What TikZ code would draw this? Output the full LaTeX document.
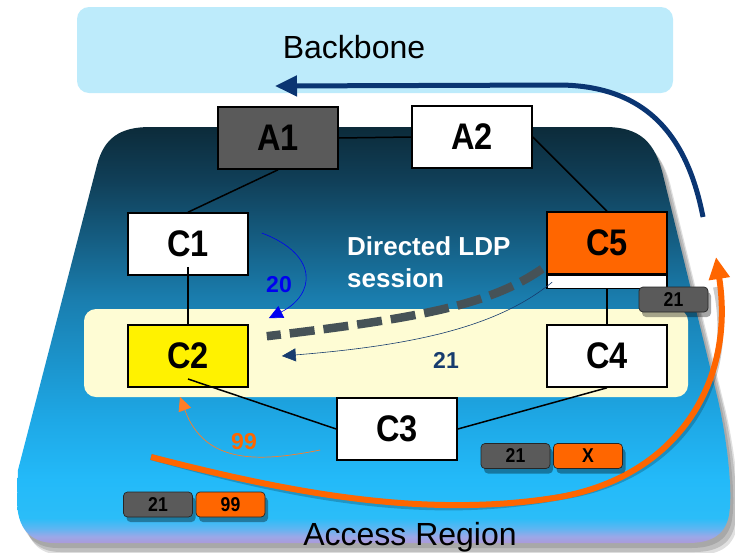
\documentclass[tikz,border=0pt]{standalone}
\usepackage{fontspec}
\setmainfont{Liberation Sans}
\newfontfamily\routerfont{Liberation Sans}[FakeStretch=0.88]
\usetikzlibrary{arrows.meta,shadows,calc}

\definecolor{bbfill}{HTML}{BDEBFB}
\definecolor{bandfill}{HTML}{FEFCD4}
\definecolor{tagGray}{HTML}{5A5A5A}
\definecolor{orng}{HTML}{FF6600}
\definecolor{navyArrow}{HTML}{0A3572}
\definecolor{dashGray}{HTML}{465257}
\definecolor{navyText}{HTML}{173C6E}
\definecolor{linkBlue}{HTML}{0000F0}

% vertical gradient of the access region (bottom to top)
\definecolor{g0}{HTML}{AC9ADA}
\definecolor{g1}{HTML}{9AA8E8}
\definecolor{g2}{HTML}{5CB6F2}
\definecolor{g3}{HTML}{2BBDF8}
\definecolor{g4}{HTML}{23BAF9}
\definecolor{g5}{HTML}{1EA8E6}
\definecolor{g6}{HTML}{1B93CB}
\definecolor{g7}{HTML}{1A7EAF}
\definecolor{g8}{HTML}{155E83}
\definecolor{g9}{HTML}{103F58}
\definecolor{g10}{HTML}{0C2B3A}
\pgfdeclareverticalshading{accessgrad}{100bp}{%
  color(0bp)=(g0); color(25bp)=(g0); color(25.8bp)=(g1); color(26.8bp)=(g2);
  color(28bp)=(g3); color(32.6bp)=(g4); color(39.8bp)=(g5); color(47bp)=(g6);
  color(54.2bp)=(g7); color(61.4bp)=(g8); color(68.6bp)=(g9); color(75bp)=(g10);
  color(100bp)=(g10)}

\tikzset{
  accesspath/.style={insert path={
    (150,127) -- (605,127) .. controls (640,127) and (655,142) .. (663,175)
    -- (718,400) .. controls (727,440) and (733,490) .. (729,515)
    .. controls (725,537) and (708,543) .. (688,543) -- (55,543)
    .. controls (30,543) and (17,528) .. (17,500) -- (18,470) -- (97,165)
    .. controls (104,138) and (120,127) .. (150,127) -- cycle}},
  router/.style={draw=black, line width=1.6pt, minimum width=120pt,
    minimum height=62pt, inner sep=0pt, fill=white,
    font=\routerfont\fontsize{37}{37}\selectfont\bfseries},
  tag/.style={draw=black!85, line width=0.7pt, rounded corners=4pt,
    minimum width=69pt, minimum height=25pt, inner sep=0pt,
    font=\routerfont\fontsize{20}{20}\selectfont\bfseries,
    drop shadow={shadow xshift=3pt, shadow yshift=-5pt, opacity=0.35, fill=black}},
  link/.style={line width=1.5pt, draw=black},
  numlabel/.style={font=\fontsize{23}{23}\selectfont\bfseries, inner sep=0pt},
  thinhead/.style={-{Triangle[length=14pt,width=13pt]}},
  bighead/.style={-{Triangle[length=22pt,width=20pt]}},
}

\begin{document}
\begin{tikzpicture}[x=1pt,y=-1pt]
\useasboundingbox (0,0) rectangle (735,552);

% backbone area
\node[fill=bbfill, rounded corners=12pt, minimum width=596pt, minimum height=86pt,
      inner sep=0pt] (bb) at (375,50) {};
\node[font=\fontsize{32}{32}\selectfont] (bbtxt) at (354,47) {Backbone};

% access region with its soft shadow
\begin{scope}[shift={(3,5)}]
  \fill[black, opacity=0.12, accesspath];
\end{scope}
\begin{scope}[shift={(6,9)}]
  \fill[black, opacity=0.15, accesspath];
\end{scope}
\begin{scope}[shift={(8,12)}]
  \fill[black, opacity=0.12, accesspath];
\end{scope}
\shade[shading=accessgrad, accesspath];

% yellow band around C2 ... C4
\node[fill=bandfill, rounded corners=12pt, minimum width=604pt, minimum height=88pt,
      inner sep=0pt] (band) at (386,353) {};

% routers
\node[router, fill=tagGray] (A1) at (278,138) {A1};
\node[router] (A2) at (472,137) {A2};
\node[router] (C1) at (188,244) {C1};
\node[router, fill=orng] (C5) at (607,243) {C5};
\node[draw=black, line width=1.6pt, fill=white, minimum width=120pt,
      minimum height=13pt, inner sep=0pt, anchor=north] (C5s) at (C5.south) {};
\node[router, fill=yellow] (C2) at (188,356) {C2};
\node[router] (C4) at (607,356) {C4};
\node[router] (C3) at (397,429) {C3};

% physical links
\draw[link] (A1.east) -- (A2.west);
\draw[link] (A1.south) -- (C1.north);
\draw[link] (A2.east) -- (C5.north);
\draw[link] ([yshift=9pt]C1.south) -- (C2.north);
\draw[link] (C5s.south) -- (C4.north);
\draw[link] ([yshift=-23pt]C2.center) -- (C3.west);
\draw[link] (C3.east) -- (C4.south);

% directed LDP session
\draw[dashGray, line width=8.5pt, dash pattern=on 25pt off 9pt]
  ([xshift=-4pt,yshift=6pt]C5.south west)
  .. controls (490,305) and (420,318) .. ([xshift=18pt,yshift=-12pt]C2.north east);
\node[text=white, font=\fontsize{26}{32}\selectfont\bfseries, align=left,
      anchor=north west, inner sep=0pt] (ldp) at (347,236) {Directed LDP\\session};

% label advertisements
\draw[navyText, line width=0.6pt, thinhead]
  ([xshift=6pt]C5s.west) .. controls (500,325) and (420,345) .. ([xshift=33pt]C2.east);
\node[numlabel, text=navyText] (l21) at (446,360) {21};

\draw[linkBlue, line width=0.6pt, thinhead]
  ([xshift=13pt,yshift=11pt]C1.east) .. controls (320,255) and (315,295)
  .. ([xshift=20pt,yshift=6pt]C2.north east);
\node[numlabel, text=linkBlue] (l20) at (279,285) {20};

\draw[orng!85!white, line width=0.7pt, thinhead]
  ([xshift=-16pt,yshift=-21pt]C3.west) .. controls (260,462) and (205,465)
  .. ([xshift=-8pt,yshift=-9pt]C2.south);
\node[numlabel, text=orng] (l99) at (244,442) {99};

% traffic paths
\coordinate (navyStart) at (703,217);
\coordinate (navyEnd) at (275,86);
\draw[navyArrow, line width=5pt, bighead]
  (navyStart) .. controls (688,140) and (650,86) .. (560,85) -- (navyEnd);

\coordinate (orStart) at (151,457);
\coordinate (orMid) at (560,497);
\coordinate (orEnd) at (716,257);
\begin{scope}[shift={(2,4)}]
  \draw[black, opacity=0.2, line width=6pt]
    (orStart) .. controls (280,490) and (420,520) .. (orMid)
    .. controls (680,475) and (735,380) .. ([yshift=-30pt]orEnd);
\end{scope}
\draw[orng, line width=6pt, bighead]
  (orStart) .. controls (280,490) and (420,520) .. (orMid)
  .. controls (680,475) and (735,380) .. (orEnd);

% label stacks
\node[tag, fill=tagGray] (t1) at (673.5,299.5) {21};
\node[tag, fill=tagGray] (t2) at (515.5,456) {21};
\node[tag, fill=orng] (t3) at (588,456) {X};
\node[tag, fill=tagGray] (t4) at (158,504.5) {21};
\node[tag, fill=orng] (t5) at (230.5,504.5) {99};

\node[font=\fontsize{32}{32}\selectfont, anchor=base, inner sep=0pt] (acc)
  at (410,545) {Access Region};
\end{tikzpicture}
\end{document}
